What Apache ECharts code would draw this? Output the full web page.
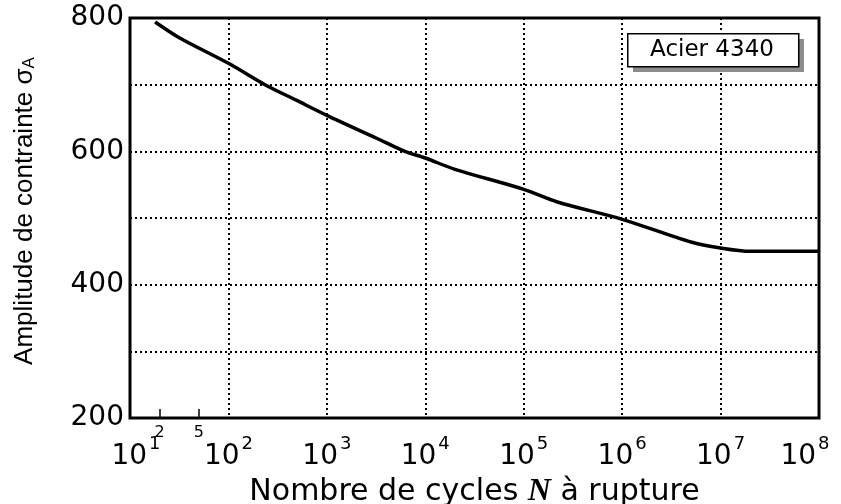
<!DOCTYPE html>
<html>
<head>
<meta charset="utf-8">
<script src="https://cdn.jsdelivr.net/npm/echarts@6/dist/echarts.min.js"></script>
<style>
    html, body { margin: 0; padding: 0; background: #fff; }
    #chartView { width: 841px; height: 504px; }
</style>
</head>
<body>
<div id="chartView"></div>
<script>
// courbe de Wöhler, acier 4340
var arrCycles = [18, 32, 100, 235, 500, 1000, 3162, 6200, 10000, 20000, 100000, 220000, 1000000, 5000000, 10000000, 20000000, 100000000];
var arrAmplitude = [794, 770, 732, 700, 676, 654, 620, 600, 590, 573, 543, 524, 498, 464, 455, 450, 450];
var arrYLabels = [200, 400, 600, 800];
var arrPetitsTicks = [20, 50]; // graduations 2 et 5 (x10)

var myChart1 = echarts.init(document.getElementById('chartView'));

var seriesData = [];
for (var i = 0; i < arrCycles.length; i++) {
    seriesData.push([arrCycles[i], arrAmplitude[i]]);
}

var petitsLog = arrPetitsTicks.map(function (v) { return Math.log10(v); });

var fontNum = 'DejaVu Sans';

var option = {
    backgroundColor: '#fff',
    animation: false,
    grid: {
        left: 130,
        right: 22,
        top: 18,
        bottom: 86,
        show: true,
        borderColor: '#000',
        borderWidth: 3,
        containLabel: false,
        outerBoundsMode: 'none'
    },
    xAxis: [
        {
            type: 'log',
            logBase: 10,
            min: 10,
            max: 100000000,
            interval: 1,
            name: '{t|Nombre de cycles }{n|N}{t| à rupture}',
            nameLocation: 'middle',
            nameGap: 56,
            nameTextStyle: {
                rich: {
                    t: { fontFamily: fontNum, fontSize: 30, color: '#000' },
                    n: { fontFamily: 'Liberation Serif', fontSize: 32, fontWeight: 'bold', fontStyle: 'italic', color: '#000' }
                }
            },
            axisLine: { show: false },
            axisTick: { show: false },
            axisLabel: {
                margin: 17,
                formatter: function (v) {
                    var e = Math.round(Math.log10(v));
                    if (e === 1) return '{first|}{b|10}{s|1}';
                    if (e === 8) return '{b|10}{s|8}{last|}';
                    return '{b|10}{s|' + e + '}';
                },
                rich: {
                    b: { fontFamily: fontNum, fontSize: 28, color: '#000', lineHeight: 36, verticalAlign: 'bottom' },
                    s: { fontFamily: fontNum, fontSize: 18, color: '#000', lineHeight: 36, verticalAlign: 'top', padding: [0, 0, 0, 2] },
                    first: { width: 12, fontSize: 18, lineHeight: 36 },
                    last: { width: 28, fontSize: 18, lineHeight: 36 }
                }
            },
            splitLine: {
                show: true,
                lineStyle: { color: '#000', width: 2, type: [2, 3] }
            }
        },
        {
            type: 'value',
            min: 1,
            max: 8,
            position: 'bottom',
            axisLine: { show: false },
            splitLine: { show: false },
            axisTick: {
                show: true,
                inside: true,
                length: 9,
                customValues: petitsLog,
                lineStyle: { color: '#000', width: 1.5 }
            },
            axisLabel: {
                show: true,
                margin: 7,
                customValues: petitsLog,
                fontFamily: fontNum,
                fontSize: 16,
                color: '#000',
                formatter: function (v) {
                    return String(Math.round(Math.pow(10, v) / 10));
                }
            }
        }
    ],
    yAxis: {
        type: 'value',
        min: 200,
        max: 800,
        interval: 100,
        name: 'Amplitude de contrainte σ{sub|A}',
        nameLocation: 'middle',
        nameGap: 92,
        nameTextStyle: {
            fontFamily: 'Liberation Sans',
            fontSize: 26,
            color: '#000',
            padding: [0, 0, 0, 14],
            rich: {
                sub: { fontFamily: 'Liberation Sans', fontSize: 17, color: '#000', verticalAlign: 'bottom' }
            }
        },
        axisLine: { show: false },
        axisTick: { show: false },
        axisLabel: {
            margin: 6,
            fontFamily: fontNum,
            fontSize: 28,
            color: '#000',
            formatter: function (v) {
                return arrYLabels.indexOf(v) >= 0 ? String(v) : '';
            }
        },
        splitLine: {
            show: true,
            lineStyle: { color: '#000', width: 2, type: [2, 3] }
        }
    },
    graphic: [
        {
            type: 'rect',
            left: 633,
            top: 39,
            shape: { width: 171, height: 33 },
            style: { fill: '#8c8c8c' },
            z: 10
        },
        {
            type: 'rect',
            left: 627,
            top: 33,
            shape: { width: 171, height: 33 },
            style: { fill: '#fff', stroke: '#000', lineWidth: 1.5 },
            z: 11
        },
        {
            type: 'text',
            x: 712,
            y: 50,
            style: { text: 'Acier 4340', fontFamily: fontNum, fontSize: 23, fill: '#000', textAlign: 'center', textVerticalAlign: 'middle' },
            z: 12
        }
    ],
    series: [
        {
            name: 'Acier 4340',
            type: 'line',
            xAxisIndex: 0,
            smooth: 0.3,
            symbol: 'none',
            lineStyle: { color: '#000', width: 3.5 },
            data: seriesData
        }
    ]
};

myChart1.setOption(option);
</script>
</body>
</html>
